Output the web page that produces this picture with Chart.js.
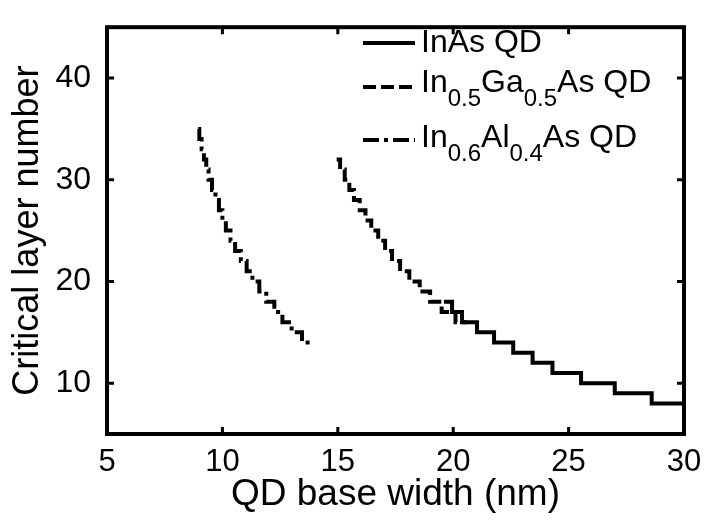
<!DOCTYPE html>
<html lang="en">
<head>
<meta charset="UTF-8">
<title>Critical layer number</title>
<script src="https://cdn.jsdelivr.net/npm/chart.js"></script>
<style>
    html, body { margin: 0; padding: 0; background: #fff; }
</style>
</head>
<body>
<canvas id="grafico" width="707" height="523"></canvas>
<script>
    // InAs QD (solid): x where each step starts, layer number of the step; last point closes the last step
    const inAsX = [19.6, 19.95, 20.38, 21.03, 21.77, 22.6, 23.44, 24.3, 25.54, 27.0, 28.6, 30];
    const inAsY = [18, 17, 16, 15, 14, 13, 12, 11, 10, 9, 8, 8];

    // In0.5Ga0.5As QD (dashed)
    const inGaAsX = [14.95, 15.1, 15.3, 15.5, 15.7, 15.95, 16.2, 16.45, 16.75, 17.05, 17.35, 17.7, 18.1, 18.55, 19.0, 19.5, 20.1, 20.6];
    const inGaAsY = [32, 31, 30, 29, 28, 27, 26, 25, 24, 23, 22, 21, 20, 19, 18, 17, 16, 16];

    // In0.6Al0.4As QD (dash-dot)
    const inAlAsX = [8.95, 9.0, 9.1, 9.2, 9.3, 9.4, 9.55, 9.7, 9.85, 10.0, 10.15, 10.35, 10.55, 10.8, 11.05, 11.3, 11.6, 11.9, 12.25, 12.6, 13.0, 13.45, 13.87];
    const inAlAsY = [35, 34, 33, 32, 31, 30, 29, 28, 27, 26, 25, 24, 23, 22, 21, 20, 19, 18, 17, 16, 15, 14, 14];

    const xTicks = [5, 10, 15, 20, 25, 30];
    const yTicks = [10, 20, 30, 40];

    // legend text pieces, sub = subscript
    const legendTexts = [
        [{ t: 'InAs QD' }],
        [{ t: 'In' }, { t: '0.5', sub: true }, { t: 'Ga' }, { t: '0.5', sub: true }, { t: 'As QD' }],
        [{ t: 'In' }, { t: '0.6', sub: true }, { t: 'Al' }, { t: '0.4', sub: true }, { t: 'As QD' }]
    ];

    const FONT = "'Liberation Sans', Arial, sans-serif";

    function punti(xs, ys) {
        return xs.map((x, i) => ({ x: x, y: ys[i] }));
    }

    // box with inward ticks + legend with subscripts
    const cornice = {
        id: 'cornice',
        afterDraw(chart) {
            const { ctx, chartArea: a, scales } = chart;
            ctx.save();
            ctx.strokeStyle = '#000';
            ctx.lineWidth = 3;
            ctx.beginPath();
            xTicks.forEach(v => {
                const px = scales.x.getPixelForValue(v);
                ctx.moveTo(px, a.bottom); ctx.lineTo(px, a.bottom - 7);
                ctx.moveTo(px, a.top); ctx.lineTo(px, a.top + 7);
            });
            yTicks.forEach(v => {
                const py = scales.y.getPixelForValue(v);
                ctx.moveTo(a.left, py); ctx.lineTo(a.left + 7, py);
                ctx.moveTo(a.right, py); ctx.lineTo(a.right - 7, py);
            });
            ctx.stroke();
            ctx.lineWidth = 4;
            ctx.strokeRect(a.left, a.top, a.right - a.left, a.bottom - a.top);

            // legend
            const rowLine = [43, 87, 140];
            const rowBase = [52, 92, 147];
            chart.data.datasets.forEach((ds, i) => {
                ctx.lineWidth = 4;
                ctx.setLineDash(ds.borderDash || []);
                ctx.beginPath();
                ctx.moveTo(363, rowLine[i]);
                ctx.lineTo(415, rowLine[i]);
                ctx.stroke();
                ctx.setLineDash([]);
                let x = 421;
                ctx.fillStyle = '#000';
                ctx.textBaseline = 'alphabetic';
                legendTexts[i].forEach(p => {
                    ctx.font = (p.sub ? '24px ' : '32px ') + FONT;
                    ctx.fillText(p.t, x, rowBase[i] + (p.sub ? 14 : 0));
                    x += ctx.measureText(p.t).width;
                });
            });
            ctx.restore();
        }
    };

    const serie = (label, xs, ys, dash) => ({
        label: label,
        data: punti(xs, ys),
        borderColor: '#000',
        borderWidth: 4,
        borderDash: dash,
        pointRadius: 0,
        stepped: 'before',
        fill: false
    });

    new Chart(document.getElementById('grafico').getContext('2d'), {
        type: 'line',
        data: {
            datasets: [
                serie('InAs QD', inAsX, inAsY, []),
                serie('In0.5Ga0.5As QD', inGaAsX, inGaAsY, [13, 5]),
                serie('In0.6Al0.4As QD', inAlAsX, inAlAsY, [16, 5, 4, 5])
            ]
        },
        options: {
            responsive: false,
            animation: false,
            devicePixelRatio: 1,
            layout: { padding: { top: 7, right: 23, left: 0, bottom: 0 } },
            plugins: { legend: { display: false }, tooltip: { enabled: false } },
            scales: {
                x: {
                    type: 'linear',
                    min: 5, max: 30,
                    grid: { display: false },
                    border: { display: false },
                    afterBuildTicks: s => { s.ticks = xTicks.map(v => ({ value: v })); },
                    afterFit: s => { s.height = 89; },
                    ticks: { color: '#000', padding: 2, maxRotation: 0, font: { family: FONT, size: 31 } },
                    title: {
                        display: true, text: 'QD base width (nm)', color: '#000',
                        font: { family: FONT, size: 37, lineHeight: 1 }, padding: { bottom: 10 }
                    }
                },
                y: {
                    type: 'linear',
                    min: 5, max: 45,
                    grid: { display: false },
                    border: { display: false },
                    afterBuildTicks: s => { s.ticks = yTicks.map(v => ({ value: v })); },
                    afterFit: s => { s.width = 107; },
                    ticks: { color: '#000', padding: 8, font: { family: FONT, size: 32 } },
                    title: {
                        display: true, text: 'Critical layer number', color: '#000',
                        font: { family: FONT, size: 36, lineHeight: 1 }, padding: { top: 10 }
                    }
                }
            }
        },
        plugins: [cornice]
    });
</script>
</body>
</html>
